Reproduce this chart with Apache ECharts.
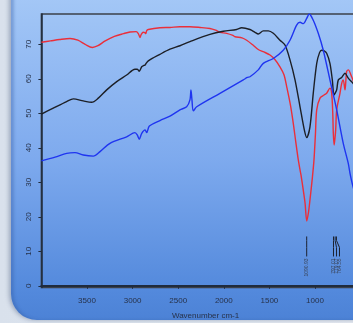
<!DOCTYPE html>
<html>
<head>
<meta charset="utf-8">
<script src="https://cdn.jsdelivr.net/npm/echarts@6/dist/echarts.min.js"></script>
<style>
  html, body { margin: 0; padding: 0; }
  body { width: 353px; height: 323px; overflow: hidden; position: relative;
    background: linear-gradient(to right, #d9e1ec, #e6ebf2); }
  #card { position: absolute; left: 11px; top: -40px; width: 420px; height: 360px;
    border-radius: 26px;
    background: linear-gradient(to bottom, #b0d0fa 0%, #a2c6f6 12%, #7eaaee 55%, #5389dc 92%, #4c82d6 100%);
    box-shadow: -2px 0 4px rgba(40, 60, 100, 0.35), inset 3px 0 3px rgba(50, 90, 160, 0.35); }
  #chart { position: absolute; left: 0; top: 0; width: 353px; height: 323px; }
</style>
</head>
<body>
<div id="card"></div>
<div id="chart"></div>
<script>
  // spectra: [wavenumber, %T]
  const redSpectrum = [
    [4000, 70.6], [3900, 71.0], [3800, 71.4], [3686, 71.7], [3600, 71.2], [3520, 70.0],
    [3442, 69.1], [3380, 69.6], [3300, 71.0], [3200, 72.3], [3100, 73.1], [3028, 73.6],
    [2960, 73.7], [2935, 73.0], [2919, 72.0], [2905, 72.9], [2883, 73.5], [2865, 73.4],
    [2856, 73.1], [2845, 74.0], [2828, 74.3], [2700, 74.8], [2590, 74.9], [2481, 75.1],
    [2371, 75.1], [2260, 74.9], [2152, 74.6], [2090, 74.1], [2042, 73.5], [1968, 73.2],
    [1900, 72.6], [1877, 72.2], [1800, 71.9], [1749, 71.2], [1680, 69.8], [1622, 68.5],
    [1560, 67.8], [1493, 66.9], [1440, 65.6], [1384, 63.5], [1340, 61.2], [1310, 57.7],
    [1270, 52.5], [1238, 47.1], [1210, 41.6], [1183, 36.5], [1160, 33.0], [1153, 32.1],
    [1130, 28.0], [1109, 24.0], [1090, 18.8], [1070, 21.5], [1055, 24.9], [1030, 31.0],
    [1011, 36.5], [995, 44.0], [981, 51.0], [945, 54.4], [900, 55.3], [872, 55.8],
    [836, 57.3], [817, 55.8], [805, 50.0], [799, 44.2], [790, 40.8], [780, 43.0],
    [773, 45.2], [762, 51.0], [726, 55.8], [707, 58.7], [690, 59.7], [671, 56.8],
    [653, 62.1], [635, 62.6], [598, 60.6], [560, 58.0], [500, 55.0], [450, 53.0], [400, 52.0]
  ];
  const blackSpectrum = [
    [4000, 49.8], [3870, 51.5], [3723, 53.4], [3650, 54.2], [3541, 53.6], [3449, 53.2],
    [3376, 54.4], [3284, 56.8], [3174, 59.2], [3065, 61.1], [2974, 62.8], [2948, 62.8],
    [2927, 62.2], [2900, 63.5], [2875, 63.9], [2862, 64.0], [2856, 64.3], [2828, 65.2],
    [2700, 67.1], [2590, 68.6], [2481, 69.6], [2371, 70.8], [2152, 72.9], [2005, 73.8],
    [1859, 74.3], [1804, 74.8], [1713, 74.3], [1658, 73.5], [1622, 73.0], [1567, 73.9],
    [1512, 73.9], [1457, 73.2], [1384, 71.2], [1329, 69.8], [1274, 65.5], [1219, 59.7],
    [1164, 51.9], [1117, 45.2], [1091, 43.0], [1055, 46.1], [1019, 55.8], [981, 64.5],
    [950, 67.6], [927, 68.3], [900, 68.1], [872, 67.4], [836, 64.5], [810, 59.7],
    [792, 55.3], [780, 55.8], [762, 56.8], [744, 59.7], [707, 60.4], [671, 61.6],
    [635, 60.2], [583, 58.7], [500, 56.0], [400, 54.0]
  ];
  const blueSpectrum = [
    [4000, 36.2], [3850, 37.3], [3723, 38.4], [3632, 38.6], [3541, 37.9], [3431, 37.6],
    [3357, 38.9], [3248, 41.3], [3065, 43.2], [2974, 44.4], [2948, 43.7], [2927, 42.5],
    [2900, 44.2], [2863, 45.2], [2845, 44.4], [2816, 46.3], [2700, 47.9], [2590, 49.2],
    [2481, 51.0], [2407, 51.9], [2371, 53.9], [2360, 56.8], [2349, 53.9], [2334, 50.7],
    [2297, 51.9], [2042, 55.8], [1786, 59.7], [1742, 60.4], [1713, 60.6], [1622, 62.6],
    [1567, 64.5], [1457, 65.9], [1348, 68.3], [1274, 71.2], [1201, 75.6], [1164, 76.4],
    [1128, 76.0], [1091, 77.5], [1063, 78.8], [1019, 77.0], [964, 73.2], [909, 68.3],
    [836, 59.7], [762, 51.0], [690, 41.3], [635, 35.5], [616, 32.6], [583, 28.8],
    [500, 22.0], [400, 16.0]
  ];

  // peak pick marks (wavenumber + printed label), drawn from top to bottom in %T units
  const peakWn = [1090.93, 797.01, 779.07, 764.55];
  const peakLabels = ["1090.93", "797.01", "779.07", "764.55"];
  const peakTop = 14.3;
  const peakBottom = 8.5;

  const xTicks = [3500, 3000, 2500, 2000, 1500, 1000];
  const yTicks = [0, 10, 20, 30, 40, 50, 60, 70];

  const labelFont = "'Liberation Sans Narrow', 'Liberation Sans', sans-serif";
  const chart = echarts.init(document.getElementById("chart"));

  function renderPeak(params, api) {
    const i = params.dataIndex;
    const tops = peakWn.map((wn) => api.coord([wn, peakTop])[0]);
    const labelXs = [];
    tops.forEach((x, k) => {
      labelXs.push(k > 0 ? Math.max(x, labelXs[k - 1] + 3) : x);
    });
    const top = api.coord([peakWn[i], peakTop]);
    const bottom = api.coord([peakWn[i], peakBottom]);
    const lx = labelXs[i];
    return {
      type: "group",
      children: [{
        type: "polyline",
        shape: {
          points: [[top[0], top[1]], [top[0], top[1] + 4], [lx, top[1] + 11], [lx, bottom[1]]]
        },
        style: { stroke: "#1c2230", lineWidth: 1, fill: null }
      }, {
        type: "text",
        x: lx,
        y: bottom[1] + 2,
        rotation: Math.PI / 2,
        style: {
          text: peakLabels[i],
          align: "right",
          verticalAlign: "middle",
          fontSize: 5,
          fontFamily: labelFont,
          fill: "#3a4458"
        }
      }]
    };
  }

  chart.setOption({
    animation: false,
    grid: {
      left: 41.4, top: 14, width: 328.3, height: 273.5,
      outerBoundsMode: "none",
      show: true, borderColor: "#3b4049", borderWidth: 1.5, backgroundColor: "transparent"
    },
    xAxis: {
      type: "value",
      inverse: true,
      min: 400,
      max: 4000,
      name: "Wavenumber cm-1",
      nameLocation: "middle",
      nameGap: 24,
      nameTextStyle: { fontSize: 8, fontFamily: labelFont, color: "#27324a" },
      axisLine: { lineStyle: { color: "#1f2b3d", width: 2 } },
      axisTick: { length: 3, lineStyle: { color: "#1f2b3d" }, customValues: xTicks },
      axisLabel: {
        margin: 9, fontSize: 8, fontFamily: labelFont, color: "#27324a",
        customValues: xTicks, formatter: (v) => String(v)
      },
      splitLine: { show: false }
    },
    yAxis: {
      type: "value",
      min: -0.5,
      max: 78.8,
      axisLine: { show: true, lineStyle: { color: "#1f2b3d", width: 1.5 } },
      axisTick: { show: true, length: 3, lineStyle: { color: "#1f2b3d" }, customValues: yTicks },
      axisLabel: {
        rotate: 90, margin: 9, fontSize: 8, fontFamily: labelFont, color: "#27324a",
        customValues: yTicks, formatter: (v) => String(v)
      },
      splitLine: { show: false }
    },
    series: [{
      name: "red",
      type: "line",
      data: redSpectrum,
      showSymbol: false,
      smooth: 0.3,
      lineStyle: { color: "#ea2f3a", width: 1.4 }
    }, {
      name: "black",
      type: "line",
      data: blackSpectrum,
      showSymbol: false,
      smooth: 0.3,
      lineStyle: { color: "#1c1f26", width: 1.4 }
    }, {
      name: "blue",
      type: "line",
      data: blueSpectrum,
      showSymbol: false,
      smooth: 0.3,
      lineStyle: { color: "#1f35f0", width: 1.4 }
    }, {
      name: "peaks",
      type: "custom",
      renderItem: renderPeak,
      data: peakWn.map((wn) => [wn, peakTop]),
      encode: { x: 0, y: 1 }
    }]
  });
</script>
</body>
</html>
